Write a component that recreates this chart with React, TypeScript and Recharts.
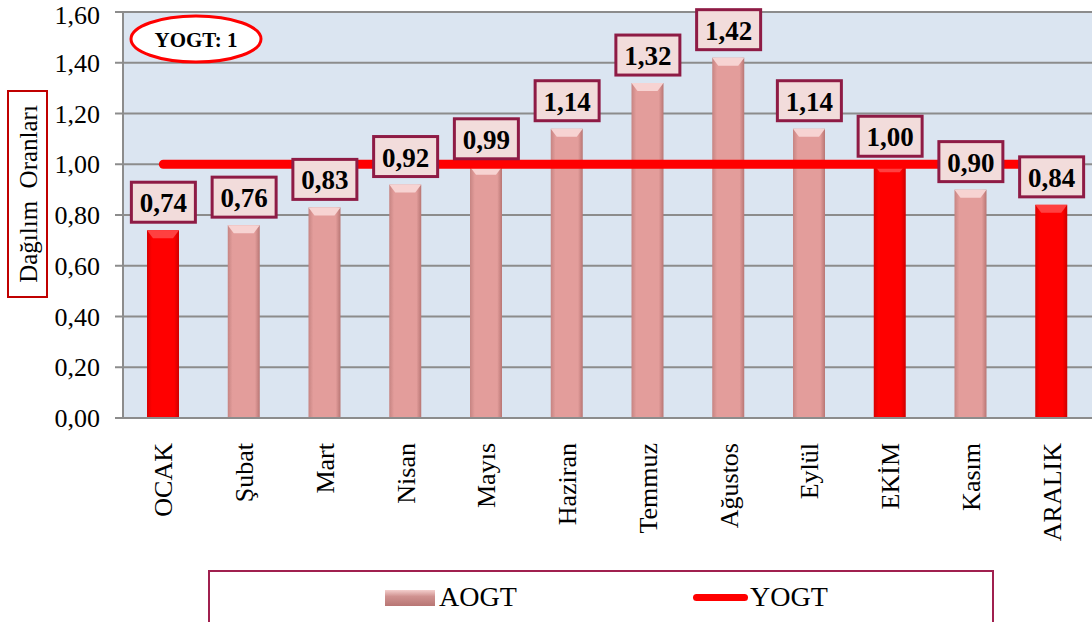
import { Bar, Cell, ComposedChart, CartesianGrid, LabelList, Line, XAxis, YAxis } from "recharts";

const months = ["OCAK", "Şubat", "Mart", "Nisan", "Mayıs", "Haziran", "Temmuz", "Ağustos", "Eylül", "EKİM", "Kasım", "ARALIK"];
const aogt = [0.74, 0.76, 0.83, 0.92, 0.99, 1.14, 1.32, 1.42, 1.14, 1.0, 0.9, 0.84];
const yogt = [1, 1, 1, 1, 1, 1, 1, 1, 1, 1, 1, 1];
const highlighted = ["OCAK", "EKİM", "ARALIK"];
const yTicks = [0, 0.2, 0.4, 0.6, 0.8, 1.0, 1.2, 1.4, 1.6];

const data = months.map((m, i) => ({ month: m, aogt: aogt[i], yogt: yogt[i] }));

const FONT = "'Liberation Serif', 'Times New Roman', serif";
const fmt = (v: number) => v.toFixed(2).replace(".", ",");

function BarShape(props: any) {
    const { x, y, width, height, payload } = props;
    const red = highlighted.includes(payload.month);
    const bevel = 8;
    return (
        <g>
            <rect x={x} y={y} width={width} height={height} fill={red ? "url(#redGrad)" : "url(#pinkGrad)"} />
            <polygon
                points={`${x},${y} ${x + width},${y} ${x + width - 6},${y + bevel} ${x + 6},${y + bevel}`}
                fill={red ? "#ff4040" : "#f7d3d2"}
            />
        </g>
    );
}

function ValueLabel(props: any) {
    const { x, y, value } = props;
    return (
        <g>
            <rect x={x - 32} y={y - 48} width={64} height={40} fill="#f2dcdb" stroke="#8e1b45" strokeWidth={3} />
            <text x={x} y={y - 27} textAnchor="middle" dominantBaseline="central" fontFamily={FONT} fontWeight="bold" fontSize={27} fill="#000">
                {fmt(value)}
            </text>
        </g>
    );
}

function MonthTick(props: any) {
    const { x, payload } = props;
    const y = 443;
    return (
        <text x={x} y={y} dy={9} transform={`rotate(-90 ${x} ${y})`} textAnchor="end" fontFamily={FONT} fontSize={26} fill="#000">
            {payload.value}
        </text>
    );
}

export default function App() {
    return (
        <div style={{ position: "absolute", left: 0, top: 0, width: 1092, height: 622, background: "#fff", fontFamily: FONT }}>
            <ComposedChart width={1092} height={622} data={data} margin={{ top: 12, right: 0, left: 0, bottom: 0 }}>
                <defs>
                    <linearGradient id="pinkGrad" x1="0" y1="0" x2="1" y2="0">
                        <stop offset="0%" stopColor="#c68482" />
                        <stop offset="15%" stopColor="#e39d9b" />
                        <stop offset="85%" stopColor="#e39d9b" />
                        <stop offset="100%" stopColor="#b87674" />
                    </linearGradient>
                    <linearGradient id="redGrad" x1="0" y1="0" x2="1" y2="0">
                        <stop offset="0%" stopColor="#d80000" />
                        <stop offset="15%" stopColor="#ff0000" />
                        <stop offset="85%" stopColor="#ff0000" />
                        <stop offset="100%" stopColor="#cc0000" />
                    </linearGradient>
                </defs>
                <CartesianGrid vertical={false} fill="#dbe5f1" stroke="#8c8c8c" strokeWidth={2} />
                <XAxis dataKey="month" height={204} interval={0} tick={<MonthTick />} tickLine={false} axisLine={{ stroke: "#8c8c8c", strokeWidth: 2 }} />
                <YAxis
                    width={123}
                    domain={[0, 1.6]}
                    ticks={yTicks}
                    tickFormatter={fmt}
                    tick={{ fontFamily: FONT, fontSize: 26, fill: "#000" }}
                    tickSize={8}
                    tickMargin={15}
                    tickLine={{ stroke: "#8c8c8c", strokeWidth: 2 }}
                    axisLine={{ stroke: "#8c8c8c", strokeWidth: 2 }}
                />
                <Bar dataKey="aogt" barSize={32} shape={<BarShape />} isAnimationActive={false}>
                    {data.map((d) => (
                        <Cell key={d.month} fill={highlighted.includes(d.month) ? "#ff0000" : "#e39d9b"} />
                    ))}
                </Bar>
                <Line dataKey="yogt" stroke="#ff0000" strokeWidth={9} strokeLinecap="round" dot={false} activeDot={false} isAnimationActive={false} />
                <Line dataKey="aogt" stroke="none" dot={false} activeDot={false} isAnimationActive={false}>
                    <LabelList dataKey="aogt" content={<ValueLabel />} />
                </Line>
            </ComposedChart>

            <svg width={1092} height={622} style={{ position: "absolute", left: 0, top: 0, pointerEvents: "none" }}>
                <ellipse cx={196} cy={39} rx={65} ry={23} fill="#fff" stroke="#ff0000" strokeWidth={3} />
                <text x={196} y={40} textAnchor="middle" dominantBaseline="central" fontFamily={FONT} fontWeight="bold" fontSize={21}>
                    YOGT: 1
                </text>
                <rect x={8} y={91} width={39} height={206} fill="#fff" stroke="#c00000" strokeWidth={2} />
                <text x={28} y={194} transform="rotate(-90 28 194)" textAnchor="middle" dominantBaseline="central" fontFamily={FONT} fontSize={25} style={{ whiteSpace: "pre" }}>
                    {"Dağılım  Oranları"}
                </text>
            </svg>

            <div style={{ position: "absolute", left: 208, top: 570, width: 786, height: 60, border: "2px solid #a0204f", boxSizing: "border-box" }}>
                <div style={{ position: "absolute", left: 175, top: 18, width: 50, height: 16, background: "linear-gradient(#f4cfcd, #d09290 40%, #b87674)" }} />
                <div style={{ position: "absolute", left: 229, top: 8, fontSize: 28, lineHeight: "34px" }}>AOGT</div>
                <div style={{ position: "absolute", left: 483, top: 22, width: 55, height: 7, borderRadius: 4, background: "#ff0000" }} />
                <div style={{ position: "absolute", left: 540, top: 8, fontSize: 28, lineHeight: "34px" }}>YOGT</div>
            </div>
        </div>
    );
}
